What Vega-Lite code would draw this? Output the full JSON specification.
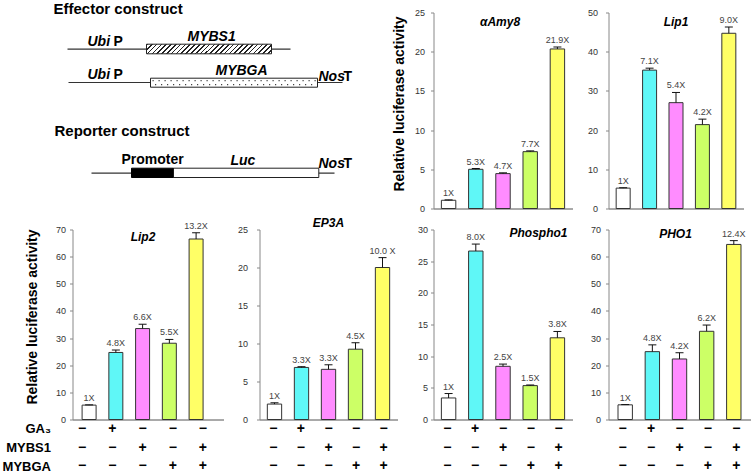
{
"$schema": "https://vega.github.io/schema/vega-lite/v6.json",
"padding": {"left": 1.5, "top": 1.5, "right": 0, "bottom": 0},
"background": "white",
"config": {
 "view": {"stroke": null},
 "font": "Liberation Sans",
 "axis": {"grid": false, "labelFont": "Liberation Sans", "titleFont": "Liberation Sans", "labelOverlap": false},
 "axisY": {"labelOverlap": false, "labelFontSize": 9, "labelColor": "#333", "tickSize": 3, "tickColor": "#888", "domainColor": "#888", "titleFontSize": 14, "titleFontWeight": "bold", "titleColor": "black"},
 "title": {"font": "Liberation Sans"},
 "text": {"font": "Liberation Sans"}
},
"datasets": {
 "bars": [
  {"gene":"aAmy8","cond":"ctrl","value":1.05,"upper":1.1,"label":"1X"},
  {"gene":"aAmy8","cond":"GA3","value":5.0,"upper":5.1,"label":"5.3X"},
  {"gene":"aAmy8","cond":"MYBS1","value":4.45,"upper":4.55,"label":"4.7X"},
  {"gene":"aAmy8","cond":"MYBGA","value":7.25,"upper":7.35,"label":"7.7X"},
  {"gene":"aAmy8","cond":"both","value":20.35,"upper":20.6,"label":"21.9X"},
  {"gene":"Lip1","cond":"ctrl","value":5.2,"upper":5.3,"label":"1X"},
  {"gene":"Lip1","cond":"GA3","value":35.3,"upper":35.8,"label":"7.1X"},
  {"gene":"Lip1","cond":"MYBS1","value":27.0,"upper":29.6,"label":"5.4X"},
  {"gene":"Lip1","cond":"MYBGA","value":21.4,"upper":22.8,"label":"4.2X"},
  {"gene":"Lip1","cond":"both","value":44.7,"upper":46.3,"label":"9.0X"},
  {"gene":"Lip2","cond":"ctrl","value":5.3,"upper":5.4,"label":"1X"},
  {"gene":"Lip2","cond":"GA3","value":24.7,"upper":25.6,"label":"4.8X"},
  {"gene":"Lip2","cond":"MYBS1","value":33.5,"upper":35.1,"label":"6.6X"},
  {"gene":"Lip2","cond":"MYBGA","value":28.1,"upper":29.5,"label":"5.5X"},
  {"gene":"Lip2","cond":"both","value":66.5,"upper":68.8,"label":"13.2X"},
  {"gene":"EP3A","cond":"ctrl","value":2.03,"upper":2.2,"label":"1X"},
  {"gene":"EP3A","cond":"GA3","value":6.85,"upper":6.95,"label":"3.3X"},
  {"gene":"EP3A","cond":"MYBS1","value":6.6,"upper":7.2,"label":"3.3X"},
  {"gene":"EP3A","cond":"MYBGA","value":9.25,"upper":10.1,"label":"4.5X"},
  {"gene":"EP3A","cond":"both","value":20.0,"upper":21.3,"label":"10.0 X"},
  {"gene":"Phospho1","cond":"ctrl","value":3.4,"upper":4.1,"label":"1X"},
  {"gene":"Phospho1","cond":"GA3","value":26.6,"upper":27.7,"label":"8.0X"},
  {"gene":"Phospho1","cond":"MYBS1","value":8.4,"upper":8.75,"label":"2.5X"},
  {"gene":"Phospho1","cond":"MYBGA","value":5.35,"upper":5.45,"label":"1.5X"},
  {"gene":"Phospho1","cond":"both","value":12.9,"upper":13.9,"label":"3.8X"},
  {"gene":"PHO1","cond":"ctrl","value":5.4,"upper":5.5,"label":"1X"},
  {"gene":"PHO1","cond":"GA3","value":25.0,"upper":27.5,"label":"4.8X"},
  {"gene":"PHO1","cond":"MYBS1","value":22.3,"upper":24.6,"label":"4.2X"},
  {"gene":"PHO1","cond":"MYBGA","value":32.5,"upper":34.8,"label":"6.2X"},
  {"gene":"PHO1","cond":"both","value":64.5,"upper":65.9,"label":"12.4X"}
 ],
 "table": [
  {"cond":"ctrl","factor":"GA₃","sign":"−"},
  {"cond":"ctrl","factor":"MYBS1","sign":"−"},
  {"cond":"ctrl","factor":"MYBGA","sign":"−"},
  {"cond":"GA3","factor":"GA₃","sign":"+"},
  {"cond":"GA3","factor":"MYBS1","sign":"−"},
  {"cond":"GA3","factor":"MYBGA","sign":"−"},
  {"cond":"MYBS1","factor":"GA₃","sign":"−"},
  {"cond":"MYBS1","factor":"MYBS1","sign":"+"},
  {"cond":"MYBS1","factor":"MYBGA","sign":"−"},
  {"cond":"MYBGA","factor":"GA₃","sign":"−"},
  {"cond":"MYBGA","factor":"MYBS1","sign":"−"},
  {"cond":"MYBGA","factor":"MYBGA","sign":"+"},
  {"cond":"both","factor":"GA₃","sign":"−"},
  {"cond":"both","factor":"MYBS1","sign":"+"},
  {"cond":"both","factor":"MYBGA","sign":"+"}
 ],
 "sch_lines": [
  {"x":67,"x2":290,"y":47.7},
  {"x":68,"x2":342,"y":81},
  {"x":91,"x2":334,"y":171.7}
 ],
 "sch_hatch": [{"x":146,"x2":271,"y":42.7,"y2":52.3}],
 "sch_white": [
  {"x":150,"x2":317,"y":76.7,"y2":85.7},
  {"x":172.7,"x2":318.3,"y":166.7,"y2":176}
 ],
 "sch_black": [{"x":131,"x2":172.7,"y":166.7,"y2":176}],
 "sch_dots": [
  {"x":152,"x2":316,"y":79.2},
  {"x":154.5,"x2":316,"y":83.2}
 ],
 "sch_text_b": [
  {"x":53,"y":12.7,"t":"Effector construct","size":"h"},
  {"x":54,"y":134.3,"t":"Reporter construct","size":"h"},
  {"x":113,"y":44,"t":"P","size":"n"},
  {"x":113,"y":77.7,"t":"P","size":"n"},
  {"x":343,"y":79,"t":"T","size":"n"},
  {"x":343,"y":166.7,"t":"T","size":"n"},
  {"x":121,"y":162.7,"t":"Promoter","size":"n"}
 ],
 "sch_text_bi": [
  {"x":87,"y":44,"t":"Ubi"},
  {"x":87,"y":77.7,"t":"Ubi"},
  {"x":187,"y":39.3,"t":"MYBS1"},
  {"x":215,"y":73.3,"t":"MYBGA"},
  {"x":318,"y":79,"t":"Nos"},
  {"x":318,"y":166.7,"t":"Nos"},
  {"x":230,"y":163.3,"t":"Luc"}
 ]
},
"columns": 4,
"bounds": "flush",
"align": "each",
"spacing": {"row": 0, "column": 36},
"concat": [
 {
  "width": 151, "height": 217,
  "layer": [
   {"data": {"name": "sch_lines"}, "mark": {"type": "rule", "color": "#333", "strokeWidth": 1.2},
    "encoding": {"x": {"field": "x", "type": "quantitative", "scale": {"domain": [72, 223], "nice": false, "zero": false}, "axis": null}, "x2": {"field": "x2"},
     "y": {"field": "y", "type": "quantitative", "scale": {"domain": [228, 11], "nice": false, "zero": false}, "axis": null}}},
   {"data": {"name": "sch_hatch"}, "mark": {"type": "rect", "stroke": "#222", "strokeWidth": 1,
     "fill": {"gradient": "linear", "x1": 0, "y1": 0, "x2": 1.0707, "y2": 0.0824, "stops": [
      {"offset":0,"color":"#222"},{"offset":0.012,"color":"#222"},{"offset":0.012,"color":"#fff"},{"offset":0.0357,"color":"#fff"},
      {"offset":0.0357,"color":"#222"},{"offset":0.0477,"color":"#222"},{"offset":0.0477,"color":"#fff"},{"offset":0.0714,"color":"#fff"},
      {"offset":0.0714,"color":"#222"},{"offset":0.0834,"color":"#222"},{"offset":0.0834,"color":"#fff"},{"offset":0.1071,"color":"#fff"},
      {"offset":0.1071,"color":"#222"},{"offset":0.1191,"color":"#222"},{"offset":0.1191,"color":"#fff"},{"offset":0.1429,"color":"#fff"},
      {"offset":0.1429,"color":"#222"},{"offset":0.1549,"color":"#222"},{"offset":0.1549,"color":"#fff"},{"offset":0.1786,"color":"#fff"},
      {"offset":0.1786,"color":"#222"},{"offset":0.1906,"color":"#222"},{"offset":0.1906,"color":"#fff"},{"offset":0.2143,"color":"#fff"},
      {"offset":0.2143,"color":"#222"},{"offset":0.2263,"color":"#222"},{"offset":0.2263,"color":"#fff"},{"offset":0.25,"color":"#fff"},
      {"offset":0.25,"color":"#222"},{"offset":0.262,"color":"#222"},{"offset":0.262,"color":"#fff"},{"offset":0.2857,"color":"#fff"},
      {"offset":0.2857,"color":"#222"},{"offset":0.2977,"color":"#222"},{"offset":0.2977,"color":"#fff"},{"offset":0.3214,"color":"#fff"},
      {"offset":0.3214,"color":"#222"},{"offset":0.3334,"color":"#222"},{"offset":0.3334,"color":"#fff"},{"offset":0.3571,"color":"#fff"},
      {"offset":0.3571,"color":"#222"},{"offset":0.3691,"color":"#222"},{"offset":0.3691,"color":"#fff"},{"offset":0.3929,"color":"#fff"},
      {"offset":0.3929,"color":"#222"},{"offset":0.4049,"color":"#222"},{"offset":0.4049,"color":"#fff"},{"offset":0.4286,"color":"#fff"},
      {"offset":0.4286,"color":"#222"},{"offset":0.4406,"color":"#222"},{"offset":0.4406,"color":"#fff"},{"offset":0.4643,"color":"#fff"},
      {"offset":0.4643,"color":"#222"},{"offset":0.4763,"color":"#222"},{"offset":0.4763,"color":"#fff"},{"offset":0.5,"color":"#fff"},
      {"offset":0.5,"color":"#222"},{"offset":0.512,"color":"#222"},{"offset":0.512,"color":"#fff"},{"offset":0.5357,"color":"#fff"},
      {"offset":0.5357,"color":"#222"},{"offset":0.5477,"color":"#222"},{"offset":0.5477,"color":"#fff"},{"offset":0.5714,"color":"#fff"},
      {"offset":0.5714,"color":"#222"},{"offset":0.5834,"color":"#222"},{"offset":0.5834,"color":"#fff"},{"offset":0.6071,"color":"#fff"},
      {"offset":0.6071,"color":"#222"},{"offset":0.6191,"color":"#222"},{"offset":0.6191,"color":"#fff"},{"offset":0.6429,"color":"#fff"},
      {"offset":0.6429,"color":"#222"},{"offset":0.6549,"color":"#222"},{"offset":0.6549,"color":"#fff"},{"offset":0.6786,"color":"#fff"},
      {"offset":0.6786,"color":"#222"},{"offset":0.6906,"color":"#222"},{"offset":0.6906,"color":"#fff"},{"offset":0.7143,"color":"#fff"},
      {"offset":0.7143,"color":"#222"},{"offset":0.7263,"color":"#222"},{"offset":0.7263,"color":"#fff"},{"offset":0.75,"color":"#fff"},
      {"offset":0.75,"color":"#222"},{"offset":0.762,"color":"#222"},{"offset":0.762,"color":"#fff"},{"offset":0.7857,"color":"#fff"},
      {"offset":0.7857,"color":"#222"},{"offset":0.7977,"color":"#222"},{"offset":0.7977,"color":"#fff"},{"offset":0.8214,"color":"#fff"},
      {"offset":0.8214,"color":"#222"},{"offset":0.8334,"color":"#222"},{"offset":0.8334,"color":"#fff"},{"offset":0.8571,"color":"#fff"},
      {"offset":0.8571,"color":"#222"},{"offset":0.8691,"color":"#222"},{"offset":0.8691,"color":"#fff"},{"offset":0.8929,"color":"#fff"},
      {"offset":0.8929,"color":"#222"},{"offset":0.9049,"color":"#222"},{"offset":0.9049,"color":"#fff"},{"offset":0.9286,"color":"#fff"},
      {"offset":0.9286,"color":"#222"},{"offset":0.9406,"color":"#222"},{"offset":0.9406,"color":"#fff"},{"offset":0.9643,"color":"#fff"},
      {"offset":0.9643,"color":"#222"},{"offset":0.9763,"color":"#222"},{"offset":0.9763,"color":"#fff"},{"offset":1,"color":"#fff"}
     ]}},
    "encoding": {"x": {"field": "x", "type": "quantitative", "scale": {"domain": [72, 223], "nice": false, "zero": false}, "axis": null}, "x2": {"field": "x2"},
     "y": {"field": "y", "type": "quantitative", "scale": {"domain": [228, 11], "nice": false, "zero": false}, "axis": null}, "y2": {"field": "y2"}}},
   {"data": {"name": "sch_white"}, "mark": {"type": "rect", "fill": "white", "stroke": "#222", "strokeWidth": 1},
    "encoding": {"x": {"field": "x", "type": "quantitative", "scale": {"domain": [72, 223], "nice": false, "zero": false}, "axis": null}, "x2": {"field": "x2"},
     "y": {"field": "y", "type": "quantitative", "scale": {"domain": [228, 11], "nice": false, "zero": false}, "axis": null}, "y2": {"field": "y2"}}},
   {"data": {"name": "sch_black"}, "mark": {"type": "rect", "fill": "black", "stroke": "black", "strokeWidth": 1},
    "encoding": {"x": {"field": "x", "type": "quantitative", "scale": {"domain": [72, 223], "nice": false, "zero": false}, "axis": null}, "x2": {"field": "x2"},
     "y": {"field": "y", "type": "quantitative", "scale": {"domain": [228, 11], "nice": false, "zero": false}, "axis": null}, "y2": {"field": "y2"}}},
   {"data": {"name": "sch_dots"}, "mark": {"type": "rule", "color": "#444", "strokeWidth": 1.2, "strokeDash": [1.2, 4.8]},
    "encoding": {"x": {"field": "x", "type": "quantitative", "scale": {"domain": [72, 223], "nice": false, "zero": false}, "axis": null}, "x2": {"field": "x2"},
     "y": {"field": "y", "type": "quantitative", "scale": {"domain": [228, 11], "nice": false, "zero": false}, "axis": null}}},
   {"data": {"name": "sch_text_b"}, "transform": [{"filter": "datum.size === 'h'"}], "mark": {"type": "text", "fontSize": 15, "fontWeight": "bold", "align": "left", "baseline": "alphabetic", "color": "black"},
    "encoding": {"x": {"field": "x", "type": "quantitative", "scale": {"domain": [72, 223], "nice": false, "zero": false}, "axis": null},
     "y": {"field": "y", "type": "quantitative", "scale": {"domain": [228, 11], "nice": false, "zero": false}, "axis": null}, "text": {"field": "t"}}},
   {"data": {"name": "sch_text_b"}, "transform": [{"filter": "datum.size === 'n'"}], "mark": {"type": "text", "fontSize": 14, "fontWeight": "bold", "align": "left", "baseline": "alphabetic", "color": "black"},
    "encoding": {"x": {"field": "x", "type": "quantitative", "scale": {"domain": [72, 223], "nice": false, "zero": false}, "axis": null},
     "y": {"field": "y", "type": "quantitative", "scale": {"domain": [228, 11], "nice": false, "zero": false}, "axis": null}, "text": {"field": "t"}}},
   {"data": {"name": "sch_text_bi"}, "mark": {"type": "text", "fontSize": 14, "fontWeight": "bold", "fontStyle": "italic", "align": "left", "baseline": "alphabetic", "color": "black"},
    "encoding": {"x": {"field": "x", "type": "quantitative", "scale": {"domain": [72, 223], "nice": false, "zero": false}, "axis": null},
     "y": {"field": "y", "type": "quantitative", "scale": {"domain": [228, 11], "nice": false, "zero": false}, "axis": null}, "text": {"field": "t"}}}
  ]
 },
 {
  "width": 1, "height": 1,
  "data": {"values": [{"a": 1}]},
  "mark": {"type": "point", "opacity": 0}
 },
 {
  "width": 139, "height": 196,
  "title": {"text": "αAmy8", "fontSize": 12, "fontWeight": "bold", "fontStyle": "italic", "color": "black", "anchor": "middle", "frame": "group", "baseline": "alphabetic", "offset": -29, "dx": -3},
  "data": {"name": "bars"},
  "transform": [{"filter": "datum.gene === 'aAmy8'"}],
  "encoding": {"x": {"field": "cond", "type": "nominal", "scale": {"domain": ["ctrl","GA3","MYBS1","MYBGA","both"], "paddingInner": 0.47, "paddingOuter": 0.29}, "axis": {"title": null, "labels": false, "ticks": false, "domainColor": "#555", "domainWidth": 1}}},
  "layer": [
   {"mark": {"type": "bar", "stroke": "#333", "strokeWidth": 1},
    "encoding": {"y": {"field": "value", "type": "quantitative", "scale": {"domain": [0, 25], "nice": false},
      "axis": {"title": "Relative luciferase activity", "values": [0,5,10,15,20,25], "tickCount": 12, "labelOverlap": false, "labelPadding": 6, "titlePadding": 8, "titleY": 91}},
     "fill": {"field": "cond", "type": "nominal", "scale": {"domain": ["ctrl","GA3","MYBS1","MYBGA","both"], "range": ["#ffffff","#5ff7f7","#ff8cff","#ccff66","#ffff66"]}, "legend": null}}},
   {"mark": {"type": "rule", "color": "#111", "strokeWidth": 1}, "encoding": {"y": {"field": "value", "type": "quantitative", "axis": {"title": "Relative luciferase activity", "values": [0,5,10,15,20,25], "tickCount": 12, "labelOverlap": false, "labelPadding": 6, "titlePadding": 8, "titleY": 91}}, "y2": {"field": "upper"}}},
   {"mark": {"type": "tick", "color": "#111", "size": 8, "thickness": 1, "opacity": 1}, "encoding": {"y": {"field": "upper", "type": "quantitative", "axis": {"title": "Relative luciferase activity", "values": [0,5,10,15,20,25], "tickCount": 12, "labelOverlap": false, "labelPadding": 6, "titlePadding": 8, "titleY": 91}}}},
   {"mark": {"type": "text", "fontSize": 9, "color": "#444", "baseline": "alphabetic", "dy": -4}, "encoding": {"y": {"field": "upper", "type": "quantitative", "axis": {"title": "Relative luciferase activity", "values": [0,5,10,15,20,25], "tickCount": 12, "labelOverlap": false, "labelPadding": 6, "titlePadding": 8, "titleY": 91}}, "text": {"field": "label"}}}
  ]
 },
 {
  "width": 135, "height": 196,
  "title": {"text": "Lip1", "fontSize": 12, "fontWeight": "bold", "fontStyle": "italic", "color": "black", "anchor": "middle", "frame": "group", "baseline": "alphabetic", "offset": -29},
  "data": {"name": "bars"},
  "transform": [{"filter": "datum.gene === 'Lip1'"}],
  "encoding": {"x": {"field": "cond", "type": "nominal", "scale": {"domain": ["ctrl","GA3","MYBS1","MYBGA","both"], "paddingInner": 0.47, "paddingOuter": 0.29}, "axis": {"title": null, "labels": false, "ticks": false, "domainColor": "#555", "domainWidth": 1}}},
  "layer": [
   {"mark": {"type": "bar", "stroke": "#333", "strokeWidth": 1},
    "encoding": {"y": {"field": "value", "type": "quantitative", "scale": {"domain": [0, 50], "nice": false},
      "axis": {"title": null, "values": [0,10,20,30,40,50], "tickCount": 12, "labelOverlap": false, "labelPadding": 8}},
     "fill": {"field": "cond", "type": "nominal", "scale": {"domain": ["ctrl","GA3","MYBS1","MYBGA","both"], "range": ["#ffffff","#5ff7f7","#ff8cff","#ccff66","#ffff66"]}, "legend": null}}},
   {"mark": {"type": "rule", "color": "#111", "strokeWidth": 1}, "encoding": {"y": {"field": "value", "type": "quantitative", "axis": {"title": null, "values": [0,10,20,30,40,50], "tickCount": 12, "labelOverlap": false, "labelPadding": 8}}, "y2": {"field": "upper"}}},
   {"mark": {"type": "tick", "color": "#111", "size": 8, "thickness": 1, "opacity": 1}, "encoding": {"y": {"field": "upper", "type": "quantitative", "axis": {"title": null, "values": [0,10,20,30,40,50], "tickCount": 12, "labelOverlap": false, "labelPadding": 8}}}},
   {"mark": {"type": "text", "fontSize": 9, "color": "#444", "baseline": "alphabetic", "dy": -4}, "encoding": {"y": {"field": "upper", "type": "quantitative", "axis": {"title": null, "values": [0,10,20,30,40,50], "tickCount": 12, "labelOverlap": false, "labelPadding": 8}}, "text": {"field": "label"}}}
  ]
 },
 {
  "width": 151, "height": 190,
  "title": {"text": "Lip2", "fontSize": 12, "fontWeight": "bold", "fontStyle": "italic", "color": "black", "anchor": "middle", "frame": "group", "baseline": "alphabetic", "offset": -31, "dx": -5},
  "data": {"name": "bars"},
  "transform": [{"filter": "datum.gene === 'Lip2'"}],
  "encoding": {"x": {"field": "cond", "type": "nominal", "scale": {"domain": ["ctrl","GA3","MYBS1","MYBGA","both"], "paddingInner": 0.477, "paddingOuter": 0.561, "align": 0.32}, "axis": {"title": null, "labels": false, "ticks": false, "domainColor": "#555", "domainWidth": 1}}},
  "layer": [
   {"mark": {"type": "bar", "stroke": "#333", "strokeWidth": 1},
    "encoding": {"y": {"field": "value", "type": "quantitative", "scale": {"domain": [0, 70], "nice": false},
      "axis": {"title": "Relative luciferase activity", "values": [0,10,20,30,40,50,60,70], "tickCount": 12, "labelOverlap": false, "labelPadding": 4, "titlePadding": 16, "titleY": 87}},
     "fill": {"field": "cond", "type": "nominal", "scale": {"domain": ["ctrl","GA3","MYBS1","MYBGA","both"], "range": ["#ffffff","#5ff7f7","#ff8cff","#ccff66","#ffff66"]}, "legend": null}}},
   {"mark": {"type": "rule", "color": "#111", "strokeWidth": 1}, "encoding": {"y": {"field": "value", "type": "quantitative", "axis": {"title": "Relative luciferase activity", "values": [0,10,20,30,40,50,60,70], "tickCount": 12, "labelOverlap": false, "labelPadding": 4, "titlePadding": 16, "titleY": 87}}, "y2": {"field": "upper"}}},
   {"mark": {"type": "tick", "color": "#111", "size": 8, "thickness": 1, "opacity": 1}, "encoding": {"y": {"field": "upper", "type": "quantitative", "axis": {"title": "Relative luciferase activity", "values": [0,10,20,30,40,50,60,70], "tickCount": 12, "labelOverlap": false, "labelPadding": 4, "titlePadding": 16, "titleY": 87}}}},
   {"mark": {"type": "text", "fontSize": 9, "color": "#444", "baseline": "alphabetic", "dy": -4}, "encoding": {"y": {"field": "upper", "type": "quantitative", "axis": {"title": "Relative luciferase activity", "values": [0,10,20,30,40,50,60,70], "tickCount": 12, "labelOverlap": false, "labelPadding": 4, "titlePadding": 16, "titleY": 87}}, "text": {"field": "label"}}}
  ]
 },
 {
  "width": 138, "height": 190,
  "title": {"text": "EP3A", "fontSize": 12, "fontWeight": "bold", "fontStyle": "italic", "color": "black", "anchor": "middle", "frame": "group", "baseline": "alphabetic", "offset": -13},
  "data": {"name": "bars"},
  "transform": [{"filter": "datum.gene === 'EP3A'"}],
  "encoding": {"x": {"field": "cond", "type": "nominal", "scale": {"domain": ["ctrl","GA3","MYBS1","MYBGA","both"], "paddingInner": 0.47, "paddingOuter": 0.29}, "axis": {"title": null, "labels": false, "ticks": false, "domainColor": "#555", "domainWidth": 1}}},
  "layer": [
   {"mark": {"type": "bar", "stroke": "#333", "strokeWidth": 1},
    "encoding": {"y": {"field": "value", "type": "quantitative", "scale": {"domain": [0, 25], "nice": false},
      "axis": {"title": null, "values": [0,5,10,15,20,25], "tickCount": 12, "labelOverlap": false, "labelPadding": 9}},
     "fill": {"field": "cond", "type": "nominal", "scale": {"domain": ["ctrl","GA3","MYBS1","MYBGA","both"], "range": ["#ffffff","#5ff7f7","#ff8cff","#ccff66","#ffff66"]}, "legend": null}}},
   {"mark": {"type": "rule", "color": "#111", "strokeWidth": 1}, "encoding": {"y": {"field": "value", "type": "quantitative", "axis": {"title": null, "values": [0,5,10,15,20,25], "tickCount": 12, "labelOverlap": false, "labelPadding": 9}}, "y2": {"field": "upper"}}},
   {"mark": {"type": "tick", "color": "#111", "size": 8, "thickness": 1, "opacity": 1}, "encoding": {"y": {"field": "upper", "type": "quantitative", "axis": {"title": null, "values": [0,5,10,15,20,25], "tickCount": 12, "labelOverlap": false, "labelPadding": 9}}}},
   {"mark": {"type": "text", "fontSize": 9, "color": "#444", "baseline": "alphabetic", "dy": -4}, "encoding": {"y": {"field": "upper", "type": "quantitative", "axis": {"title": null, "values": [0,5,10,15,20,25], "tickCount": 12, "labelOverlap": false, "labelPadding": 9}}, "text": {"field": "label"}}}
  ]
 },
 {
  "width": 139, "height": 190,
  "title": {"text": "Phospho1", "fontSize": 12, "fontWeight": "bold", "fontStyle": "italic", "color": "black", "anchor": "end", "frame": "group", "baseline": "alphabetic", "offset": -23, "dx": -5},
  "data": {"name": "bars"},
  "transform": [{"filter": "datum.gene === 'Phospho1'"}],
  "encoding": {"x": {"field": "cond", "type": "nominal", "scale": {"domain": ["ctrl","GA3","MYBS1","MYBGA","both"], "paddingInner": 0.47, "paddingOuter": 0.29}, "axis": {"title": null, "labels": false, "ticks": false, "domainColor": "#555", "domainWidth": 1}}},
  "layer": [
   {"mark": {"type": "bar", "stroke": "#333", "strokeWidth": 1},
    "encoding": {"y": {"field": "value", "type": "quantitative", "scale": {"domain": [0, 30], "nice": false},
      "axis": {"title": null, "values": [0,5,10,15,20,25,30], "tickCount": 12, "labelOverlap": false, "labelPadding": 3}},
     "fill": {"field": "cond", "type": "nominal", "scale": {"domain": ["ctrl","GA3","MYBS1","MYBGA","both"], "range": ["#ffffff","#5ff7f7","#ff8cff","#ccff66","#ffff66"]}, "legend": null}}},
   {"mark": {"type": "rule", "color": "#111", "strokeWidth": 1}, "encoding": {"y": {"field": "value", "type": "quantitative", "axis": {"title": null, "values": [0,5,10,15,20,25,30], "tickCount": 12, "labelOverlap": false, "labelPadding": 3}}, "y2": {"field": "upper"}}},
   {"mark": {"type": "tick", "color": "#111", "size": 8, "thickness": 1, "opacity": 1}, "encoding": {"y": {"field": "upper", "type": "quantitative", "axis": {"title": null, "values": [0,5,10,15,20,25,30], "tickCount": 12, "labelOverlap": false, "labelPadding": 3}}}},
   {"mark": {"type": "text", "fontSize": 9, "color": "#444", "baseline": "alphabetic", "dy": -4}, "encoding": {"y": {"field": "upper", "type": "quantitative", "axis": {"title": null, "values": [0,5,10,15,20,25,30], "tickCount": 12, "labelOverlap": false, "labelPadding": 3}}, "text": {"field": "label"}}}
  ]
 },
 {
  "width": 142, "height": 190,
  "title": {"text": "PHO1", "fontSize": 12, "fontWeight": "bold", "fontStyle": "italic", "color": "black", "anchor": "middle", "frame": "group", "baseline": "alphabetic", "offset": -24, "dx": -4},
  "data": {"name": "bars"},
  "transform": [{"filter": "datum.gene === 'PHO1'"}],
  "encoding": {"x": {"field": "cond", "type": "nominal", "scale": {"domain": ["ctrl","GA3","MYBS1","MYBGA","both"], "paddingInner": 0.47, "paddingOuter": 0.35}, "axis": {"title": null, "labels": false, "ticks": false, "domainColor": "#555", "domainWidth": 1}}},
  "layer": [
   {"mark": {"type": "bar", "stroke": "#333", "strokeWidth": 1},
    "encoding": {"y": {"field": "value", "type": "quantitative", "scale": {"domain": [0, 70], "nice": false},
      "axis": {"title": null, "values": [0,10,20,30,40,50,60,70], "tickCount": 12, "labelOverlap": false, "labelPadding": 5}},
     "fill": {"field": "cond", "type": "nominal", "scale": {"domain": ["ctrl","GA3","MYBS1","MYBGA","both"], "range": ["#ffffff","#5ff7f7","#ff8cff","#ccff66","#ffff66"]}, "legend": null}}},
   {"mark": {"type": "rule", "color": "#111", "strokeWidth": 1}, "encoding": {"y": {"field": "value", "type": "quantitative", "axis": {"title": null, "values": [0,10,20,30,40,50,60,70], "tickCount": 12, "labelOverlap": false, "labelPadding": 5}}, "y2": {"field": "upper"}}},
   {"mark": {"type": "tick", "color": "#111", "size": 8, "thickness": 1, "opacity": 1}, "encoding": {"y": {"field": "upper", "type": "quantitative", "axis": {"title": null, "values": [0,10,20,30,40,50,60,70], "tickCount": 12, "labelOverlap": false, "labelPadding": 5}}}},
   {"mark": {"type": "text", "fontSize": 9, "color": "#444", "baseline": "alphabetic", "dy": -4}, "encoding": {"y": {"field": "upper", "type": "quantitative", "axis": {"title": null, "values": [0,10,20,30,40,50,60,70], "tickCount": 12, "labelOverlap": false, "labelPadding": 5}}, "text": {"field": "label"}}}
  ]
 },
 {
  "width": 151, "height": 56,
  "data": {"name": "table"},
  "mark": {"type": "text", "fontSize": 14, "fontWeight": "bold", "color": "black", "baseline": "middle"},
  "encoding": {
   "x": {"field": "cond", "type": "nominal", "scale": {"domain": ["ctrl","GA3","MYBS1","MYBGA","both"], "paddingInner": 0.477, "paddingOuter": 0.561, "align": 0.32}, "axis": null},
   "y": {"field": "factor", "type": "nominal", "scale": {"domain": ["GA₃","MYBS1","MYBGA"], "paddingInner": 0, "paddingOuter": 0},
    "axis": {"title": null, "domain": false, "ticks": false, "labelPadding": 22, "labelFontSize": 13, "labelFontWeight": "bold", "labelColor": "black"}},
   "text": {"field": "sign"}
  }
 },
 {
  "width": 138, "height": 56,
  "data": {"name": "table"},
  "mark": {"type": "text", "fontSize": 14, "fontWeight": "bold", "color": "black", "baseline": "middle"},
  "encoding": {
   "x": {"field": "cond", "type": "nominal", "scale": {"domain": ["ctrl","GA3","MYBS1","MYBGA","both"], "paddingInner": 0.47, "paddingOuter": 0.29}, "axis": null},
   "y": {"field": "factor", "type": "nominal", "scale": {"domain": ["GA₃","MYBS1","MYBGA"], "paddingInner": 0, "paddingOuter": 0}, "axis": null},
   "text": {"field": "sign"}
  }
 },
 {
  "width": 139, "height": 56,
  "data": {"name": "table"},
  "mark": {"type": "text", "fontSize": 14, "fontWeight": "bold", "color": "black", "baseline": "middle"},
  "encoding": {
   "x": {"field": "cond", "type": "nominal", "scale": {"domain": ["ctrl","GA3","MYBS1","MYBGA","both"], "paddingInner": 0.47, "paddingOuter": 0.29}, "axis": null},
   "y": {"field": "factor", "type": "nominal", "scale": {"domain": ["GA₃","MYBS1","MYBGA"], "paddingInner": 0, "paddingOuter": 0}, "axis": null},
   "text": {"field": "sign"}
  }
 },
 {
  "width": 142, "height": 56,
  "data": {"name": "table"},
  "mark": {"type": "text", "fontSize": 14, "fontWeight": "bold", "color": "black", "baseline": "middle"},
  "encoding": {
   "x": {"field": "cond", "type": "nominal", "scale": {"domain": ["ctrl","GA3","MYBS1","MYBGA","both"], "paddingInner": 0.47, "paddingOuter": 0.35}, "axis": null},
   "y": {"field": "factor", "type": "nominal", "scale": {"domain": ["GA₃","MYBS1","MYBGA"], "paddingInner": 0, "paddingOuter": 0}, "axis": null},
   "text": {"field": "sign"}
  }
 }
]
}
